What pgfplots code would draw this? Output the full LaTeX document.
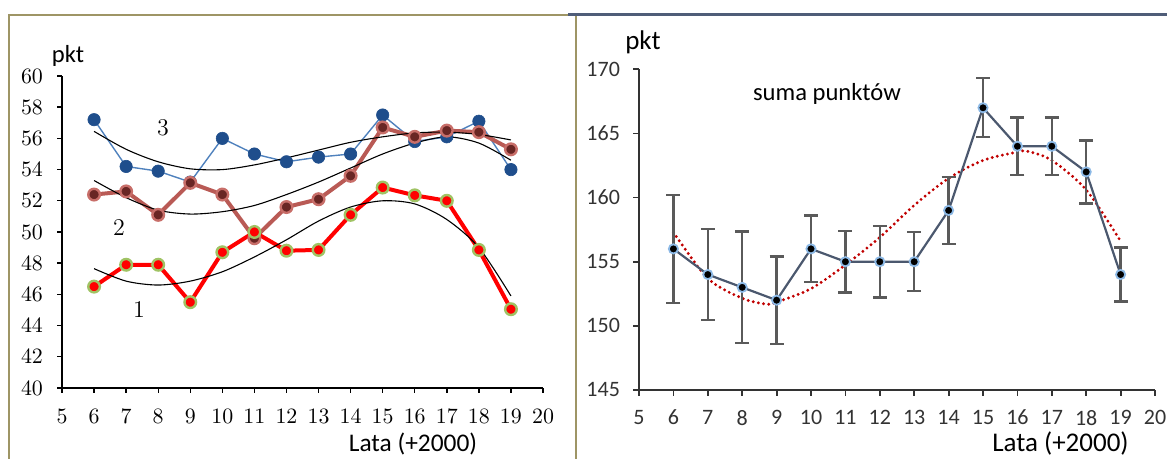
\documentclass[border=0pt]{standalone}
\usepackage{pgfplots}
\pgfplotsset{compat=1.18}
\usepackage{pgfplotstable}
\usepackage{fontspec}
\setmainfont{Carlito}
\definecolor{frameolive}{RGB}{158,149,101}
\definecolor{topslate}{RGB}{79,93,120}
\definecolor{ringA}{RGB}{160,195,100}
\definecolor{lineB}{RGB}{185,90,85}
\definecolor{markB}{RGB}{105,38,36}
\definecolor{ringB}{RGB}{200,110,105}
\definecolor{lineC}{RGB}{79,129,189}
\definecolor{markC}{RGB}{31,78,140}
\definecolor{sumline}{RGB}{75,88,110}
\definecolor{sumring}{RGB}{140,185,230}
\definecolor{errgray}{RGB}{90,90,90}
\definecolor{trendred}{RGB}{192,0,0}

\pgfplotstableread{
x s1 s2 s3
6 46.5 52.4 57.2
7 47.9 52.6 54.2
8 47.9 51.1 53.9
9 45.5 53.15 53.2
10 48.7 52.4 56.0
11 50.0 49.6 55.0
12 48.8 51.6 54.5
13 48.85 52.1 54.8
14 51.1 53.6 55.0
15 52.85 56.7 57.5
16 52.35 56.1 55.8
17 52.0 56.5 56.1
18 48.85 56.4 57.1
19 45.05 55.3 54.0
}\lefttable

\pgfplotstableread{
x t1 t2 t3
6 47.65 53.3 56.45
7 46.85 52.2 55.3
8 46.6 51.4 54.5
9 46.85 51.15 54.05
10 47.45 51.3 54.0
11 48.4 51.7 54.3
12 49.5 52.4 54.75
13 50.7 53.2 55.25
14 51.6 54.1 55.75
15 52.0 55.0 56.1
16 51.8 55.7 56.35
17 50.8 56.1 56.4
18 49.0 55.7 56.25
19 45.9 54.6 55.9
}\lefttrend

\pgfplotstableread{
x y err
6 156 4.2
7 154 3.55
8 153 4.35
9 152 3.4
10 156 2.6
11 155 2.4
12 155 2.8
13 155 2.3
14 159 2.6
15 167 2.3
16 164 2.25
17 164 2.25
18 162 2.45
19 154 2.1
}\righttable

\pgfplotstableread{
x t
6 157.3
7 153.7
8 152.15
8.7 151.7
9 151.85
10 152.9
11 154.75
12 156.9
13 159.4
14 161.5
15 162.9
16 163.55
16.3 163.6
17 162.9
18 160.6
19 156.6
}\righttrend

\begin{document}
\begin{tikzpicture}
\useasboundingbox (0,0) rectangle (583.5pt,229.5pt);
% frames
\draw[frameolive, line width=1.2pt] (4.5pt,0) -- (4.5pt,222pt) -- (288pt,222pt) -- (288pt,0);
\draw[topslate, line width=1.25pt] (284pt,222.3pt) -- (583.5pt,222.3pt);

% LEFT AXIS
\begin{axis}[
  at={(31pt,35.5pt)}, anchor=south west,
  scale only axis, width=240.5pt, height=156pt,
  xmin=5, xmax=20, ymin=40, ymax=60,
  axis lines*=left,
  axis line style={black, line width=0.7pt, -},
  xtick={5,...,20}, ytick={40,42,...,60},
  tick align=outside, tick style={black, line width=0.7pt},
  major tick length=2.5pt,
  tick label style={font=\fontsize{11}{12}\selectfont},
  yticklabel style={xshift=-3.5pt},
  xticklabel style={yshift=-4.5pt},
  clip=false,
]
\addplot[lineC, line width=0.7pt, mark=*, mark size=3.1pt,
  mark options={fill=markC, draw=markC, line width=0.3pt}] table[x=x, y=s3] {\lefttable};
\addplot[lineB, line width=2pt, mark=*, mark size=2.9pt,
  mark options={fill=markB, draw=ringB, line width=1.2pt}] table[x=x, y=s2] {\lefttable};
\addplot[red, line width=2pt, mark=*, mark size=2.9pt,
  mark options={fill=red, draw=ringA, line width=1.2pt}] table[x=x, y=s1] {\lefttable};
\addplot[black, line width=0.55pt, smooth, no marks] table[x=x, y=t1] {\lefttrend};
\addplot[black, line width=0.55pt, smooth, no marks] table[x=x, y=t2] {\lefttrend};
\addplot[black, line width=0.55pt, smooth, no marks] table[x=x, y=t3] {\lefttrend};
\node[font=\fontsize{13}{14}\selectfont] at (axis cs:8.15,56.67) {$3$};
\node[font=\fontsize{13}{14}\selectfont] at (axis cs:6.78,50.26) {$2$};
\node[font=\fontsize{13}{14}\selectfont] at (axis cs:7.4,45.0) {$1$};
\end{axis}

% RIGHT AXIS
\begin{axis}[
  at={(319.5pt,34.5pt)}, anchor=south west,
  scale only axis, width=258pt, height=160.35pt,
  xmin=5, xmax=20, ymin=145, ymax=170,
  axis lines*=left,
  axis line style={black!80, line width=0.9pt, -},
  xtick={5,...,20}, ytick={145,150,...,170},
  tick align=outside, tick style={black!80, line width=0.9pt},
  major tick length=3pt,
  tick label style={font=\fontsize{11}{12}\selectfont, text=black!80},
  yticklabel style={xshift=-3pt},
  xticklabel style={yshift=-3.5pt},
  /pgf/number format/assume math mode=true,
  clip=false,
]
\addplot[trendred, line width=1.6pt, line cap=round, dash pattern=on 0pt off 2.6pt, smooth, no marks] table[x=x, y=t] {\righttrend};
\addplot[sumline, line width=1.1pt, mark=*, mark size=2.3pt,
  mark options={fill=black, draw=sumring, line width=0.9pt},
  error bars/.cd, y dir=both, y explicit,
  error mark=-,
  error bar style={errgray, line width=1.2pt},
  error mark options={errgray, line width=1.2pt, mark size=3.5pt, rotate=90}]
  table[x=x, y=y, y error=err] {\righttable};
\end{axis}

% texts
\node[font=\fontsize{12.3}{14}\selectfont] at (34pt,201.5pt) {pkt};
\node[font=\fontsize{12.7}{14}\selectfont] at (206.5pt,7.5pt) {Lata (+2000)};
\node[font=\fontsize{13.5}{14}\selectfont] at (321.5pt,208.25pt) {pkt};
\node[font=\fontsize{13.5}{15}\selectfont] at (530.25pt,7.5pt) {Lata (+2000)};
\node[font=\fontsize{12.3}{14}\selectfont] at (413.5pt,182.5pt) {suma punktów};
\end{tikzpicture}
\end{document}
